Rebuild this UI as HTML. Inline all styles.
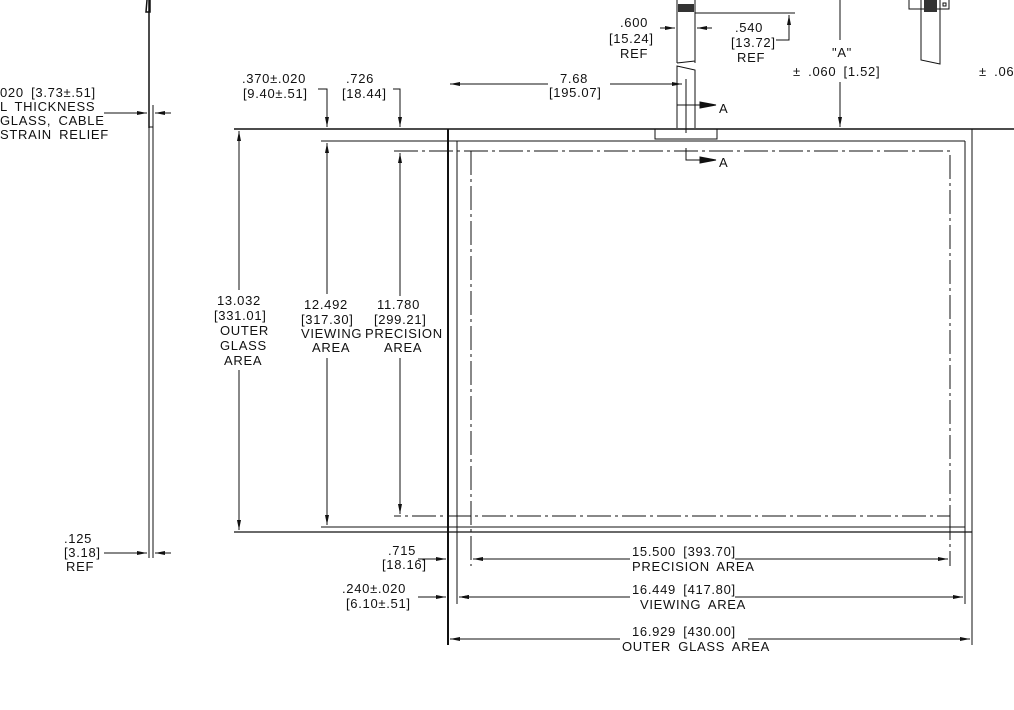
<!DOCTYPE html>
<html><head><style>
html,body{margin:0;padding:0;background:#fff;width:1014px;height:710px;overflow:hidden}
svg text{font-family:"Liberation Sans",sans-serif;font-size:13px;letter-spacing:0.7px;word-spacing:3px;fill:#111}
</style></head><body>
<svg width="1014" height="710" viewBox="0 0 1014 710" xmlns="http://www.w3.org/2000/svg">
<defs>
<marker id="a" viewBox="0 0 10 4" refX="10" refY="2" markerWidth="10" markerHeight="4" orient="auto-start-reverse" markerUnits="userSpaceOnUse"><path d="M0,0 L10,2 L0,4z" fill="#111"/></marker>
</defs>
<g stroke="#111" fill="none" stroke-width="1">
<line x1="149" y1="0" x2="149" y2="128" stroke-width="1.5"/>
<path d="M147,0 L146,12 L150,12 L150,0" stroke-width="1.5"/>
<line x1="149" y1="105" x2="149" y2="532"/>
<line x1="153" y1="105" x2="153" y2="532"/>
<path d="M149,127 L153,127"/>
<line x1="104" y1="113" x2="147" y2="113" marker-end="url(#a)"/>
<line x1="171" y1="113" x2="155" y2="113" marker-end="url(#a)"/>
<line x1="104" y1="553" x2="147" y2="553" marker-end="url(#a)"/>
<line x1="171" y1="553" x2="155" y2="553" marker-end="url(#a)"/>
<line x1="149" y1="532" x2="149" y2="558"/><line x1="153" y1="532" x2="153" y2="558"/>

<line x1="234" y1="129" x2="1014" y2="129" stroke-width="1.5"/>
<line x1="448" y1="129" x2="448" y2="645" stroke-width="2"/>
<line x1="972" y1="129" x2="972" y2="645"/>
<line x1="234" y1="532" x2="972" y2="532" stroke-width="1.3"/>
<line x1="321" y1="141" x2="965" y2="141"/>
<line x1="457" y1="141" x2="457" y2="604"/>
<line x1="965" y1="141" x2="965" y2="604"/>
<line x1="321" y1="527" x2="965" y2="527"/>
<path d="M394,151 H950 V516 H394 M471,151 V566 M950,516 V566" stroke-dasharray="24,4,3,4"/>
<line x1="239" y1="290" x2="239" y2="131" marker-end="url(#a)"/>
<line x1="239" y1="370" x2="239" y2="530" marker-end="url(#a)"/>
<line x1="327" y1="294" x2="327" y2="143" marker-end="url(#a)"/>
<line x1="327" y1="358" x2="327" y2="525" marker-end="url(#a)"/>
<line x1="400" y1="296" x2="400" y2="153" marker-end="url(#a)"/>
<line x1="400" y1="358" x2="400" y2="514" marker-end="url(#a)"/>
<path d="M318,89 H327 V127" marker-end="url(#a)"/>
<path d="M393,89 H400 V127" marker-end="url(#a)"/>
<line x1="548" y1="84" x2="450" y2="84" marker-end="url(#a)"/>
<line x1="610" y1="84" x2="682" y2="84" marker-end="url(#a)"/>
<line x1="630" y1="559" x2="473" y2="559" marker-end="url(#a)"/>
<line x1="735" y1="559" x2="948" y2="559" marker-end="url(#a)"/>
<line x1="630" y1="597" x2="459" y2="597" marker-end="url(#a)"/>
<line x1="735" y1="597" x2="963" y2="597" marker-end="url(#a)"/>
<line x1="620" y1="639" x2="450" y2="639" marker-end="url(#a)"/>
<line x1="748" y1="639" x2="970" y2="639" marker-end="url(#a)"/>
<line x1="418" y1="559" x2="446" y2="559" marker-end="url(#a)"/>
<line x1="418" y1="597" x2="446" y2="597" marker-end="url(#a)"/>
<line x1="470" y1="597" x2="459" y2="597" marker-end="url(#a)"/>
<rect x="655" y="129" width="62" height="10"/>
<path d="M677,0 V63 M695,0 V63 M677,63 Q686,62 695,61"/>
<path d="M677,128 V66 L695,70 V128"/>
<rect x="678" y="4" width="16" height="8" fill="#333" stroke="none"/>
<line x1="686" y1="79" x2="686" y2="133"/>
<path d="M677,105 H695"/>
<path d="M686,105 H700" /><path d="M700,102 L716,105 L700,108z" fill="#111"/>
<path d="M686,148 V160 H700"/><path d="M700,157 L716,160 L700,163z" fill="#111"/>
<line x1="660" y1="28" x2="675" y2="28" marker-end="url(#a)"/>
<line x1="712" y1="28" x2="697" y2="28" marker-end="url(#a)"/>
<path d="M695,13 H795"/>
<path d="M776,40 H789 V15" marker-end="url(#a)"/>
<line x1="840" y1="40" x2="840" y2="0"/>
<line x1="840" y1="82" x2="840" y2="127" marker-end="url(#a)"/>
<path d="M921,0 V60 L940,64 V0"/>
<rect x="909" y="-1" width="40" height="10"/>
<rect x="924" y="0" width="13" height="12" fill="#333" stroke="none"/>
<rect x="943" y="3" width="3" height="3"/>
</g>
<g>
<text x="0" y="97">020 [3.73±.51]</text>
<text x="0" y="111">L THICKNESS</text>
<text x="0" y="125">GLASS, CABLE</text>
<text x="0" y="139">STRAIN RELIEF</text>
<text x="64" y="543">.125</text>
<text x="64" y="557">[3.18]</text>
<text x="66" y="571">REF</text>
<text x="242" y="83">.370±.020</text>
<text x="243" y="98">[9.40±.51]</text>
<text x="346" y="83">.726</text>
<text x="342" y="98">[18.44]</text>
<text x="560" y="83">7.68</text>
<text x="549" y="97">[195.07]</text>
<text x="620" y="27">.600</text>
<text x="609" y="43">[15.24]</text>
<text x="620" y="58">REF</text>
<text x="735" y="32">.540</text>
<text x="731" y="47">[13.72]</text>
<text x="737" y="62">REF</text>
<text x="832" y="57">"A"</text>
<text x="793" y="76">± .060 [1.52]</text>
<text x="979" y="76">± .06</text>
<text x="719" y="113">A</text>
<text x="719" y="167">A</text>
<text x="217" y="305">13.032</text>
<text x="214" y="320">[331.01]</text>
<text x="220" y="335">OUTER</text>
<text x="220" y="350">GLASS</text>
<text x="224" y="365">AREA</text>
<text x="304" y="309">12.492</text>
<text x="301" y="324">[317.30]</text>
<text x="301" y="338">VIEWING</text>
<text x="312" y="352">AREA</text>
<text x="377" y="309">11.780</text>
<text x="374" y="324">[299.21]</text>
<text x="365" y="338">PRECISION</text>
<text x="384" y="352">AREA</text>
<text x="388" y="555">.715</text>
<text x="382" y="569">[18.16]</text>
<text x="342" y="593">.240±.020</text>
<text x="346" y="608">[6.10±.51]</text>
<text x="632" y="556">15.500 [393.70]</text>
<text x="632" y="571">PRECISION AREA</text>
<text x="632" y="594">16.449 [417.80]</text>
<text x="640" y="609">VIEWING AREA</text>
<text x="632" y="636">16.929 [430.00]</text>
<text x="622" y="651">OUTER GLASS AREA</text>
</g>
</svg>
</body></html>
